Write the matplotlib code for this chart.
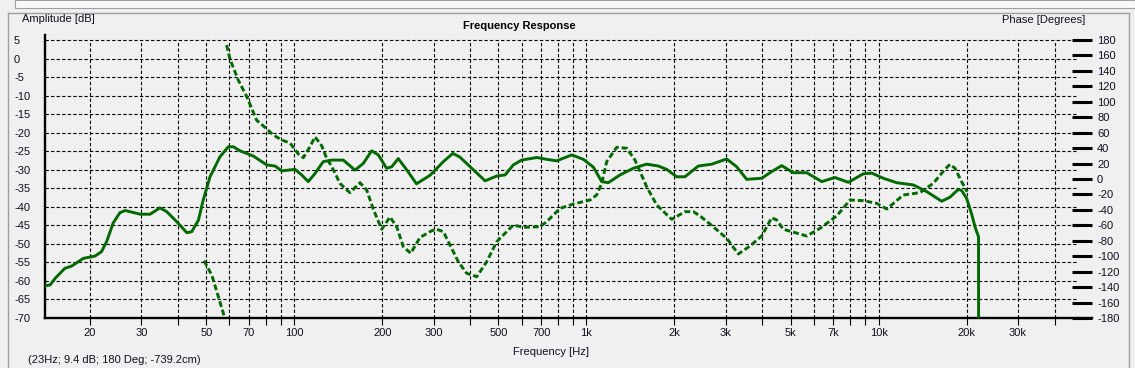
import numpy as np
import matplotlib
matplotlib.use('Agg')
import matplotlib.pyplot as plt
from matplotlib.ticker import FixedLocator, FixedFormatter, NullFormatter
from matplotlib.lines import Line2D

# ---------------- data ----------------
freq_mag = [14.0, 14.6, 15.2, 16.4, 17.3, 19.0, 20.8, 21.9, 22.8, 24.0,
            25.3, 26.4, 29.7, 32.1, 34.7, 36.6, 39.6, 42.9, 44.6, 47.0,
            48.8, 51.5, 55.7, 59.5, 61.9, 65.2, 68.8, 72.4, 80.5, 86.0,
            90.6, 100.6, 106, 111.7, 117.8, 125.7, 134.4, 147.2, 161.4, 172.3,
            184, 194, 207, 215.6, 227, 243, 262, 291.6, 324, 349,
            369, 405, 450, 493, 527, 562, 600, 676, 731, 791,
            891, 976, 1056, 1128, 1188, 1303, 1447, 1607, 1762, 1882,
            2036, 2174, 2414, 2684, 3020, 3268, 3536, 3980, 4305, 4658,
            5104, 5674, 6386, 7088, 7876, 8862, 9470, 10374, 11528, 13142,
            14602, 16432, 17546, 18734, 19232, 20000, 20820, 21370, 21970, 21990]
mag_db = [-61.3, -61.1, -59.3, -56.6, -56.0, -53.9, -53.3, -52.1, -49.4, -44.4,
          -41.6, -41.0, -42.0, -42.0, -40.3, -41.3, -44.0, -47.0, -46.7, -43.6,
          -38.2, -31.9, -26.5, -23.8, -23.8, -24.9, -25.6, -26.3, -28.7, -29.0,
          -30.3, -29.9, -31.4, -33.2, -31.0, -27.8, -27.4, -27.4, -30.1, -28.3,
          -24.9, -26.0, -29.6, -29.2, -27.0, -30.1, -33.8, -31.5, -27.8, -25.6,
          -26.6, -29.6, -33.0, -31.7, -31.4, -28.7, -27.4, -26.7, -27.2, -27.6,
          -26.0, -27.2, -29.3, -33.2, -33.5, -31.4, -29.6, -28.5, -29.0, -29.9,
          -31.9, -31.9, -29.0, -28.5, -27.1, -29.2, -32.6, -32.3, -30.5, -28.9,
          -30.8, -30.8, -33.2, -32.1, -33.4, -31.1, -30.9, -32.3, -33.5, -34.1,
          -35.9, -38.5, -37.4, -35.3, -35.6, -37.7, -42.0, -45.4, -48.1, -90.0]

freq_phase = [49.1, 52.2, 55.0, 57.5, 58.7, 60.3, 64.3, 68.8, 74.4, 79.4,
              84.8, 90.6, 96.7, 103.3, 107.4, 113.2, 117.8, 124.2, 129.1, 134.0,
              143.4, 150.0, 155.2, 167.9, 177.0, 186.4, 199.2, 212.6, 224.2, 236.2,
              250.4, 269.4, 295.4, 307.4, 323.8, 364.2, 389.2, 421.2, 455.8, 493,
              562, 608, 693, 731, 812, 902, 1029, 1084, 1128, 1173,
              1269, 1374, 1466, 1607, 1740, 1958, 2174, 2322, 2448, 2648,
              3020, 3310, 3628, 3980, 4305, 4478, 4718, 5674, 6300, 7184,
              7980, 8862, 9850, 10660, 12146, 13854, 15382, 16866, 17546, 18250,
              19232, 20106]
phase_deg = [-105.8, -124.3, -152.4, -177.0, 173.5, 155.0, 128.2, 106.6, 76.0, 66.9,
             57.0, 50.5, 46.6, 32.4, 27.6, 41.8, 54.5, 43.0, 26.8, 17.0,
             -5.6, -13.0, -17.7, -4.8, -14.3, -39.0, -65.1, -49.2, -61.8, -87.7,
             -96.2, -75.7, -67.0, -65.1, -68.2, -107.1, -122.1, -126.5, -107.1, -81.2,
             -59.6, -62.6, -61.8, -55.3, -38.0, -32.4, -27.2, -20.7, -5.6, 22.4,
             41.0, 39.8, 24.6, -10.0, -33.7, -52.2, -42.3, -42.3, -47.9, -58.3,
             -76.8, -97.1, -86.8, -73.8, -50.1, -53.1, -65.1, -73.8, -63.9, -47.9,
             -27.2, -28.1, -31.5, -38.9, -20.7, -17.7, -5.6, 12.5, 19.0, 13.9,
             -3.5, -16.5]

db_ticks = list(range(5, -75, -5))
phase_ticks = list(range(180, -200, -20))
freq_major = [20, 30, 50, 70, 100, 200, 300, 500, 700, 1000, 2000, 3000,
              5000, 7000, 10000, 20000, 30000]
freq_major_labels = ['20', '30', '50', '70', '100', '200', '300', '500', '700',
                     '1k', '2k', '3k', '5k', '7k', '10k', '20k', '30k']
freq_minor = [40, 60, 80, 90, 400, 600, 800, 900, 4000, 6000, 8000, 9000, 40000]

title = 'Frequency Response'
left_label = 'Amplitude [dB]'
right_label = 'Phase [Degrees]'
x_label = 'Frequency [Hz]'
status = '(23Hz; 9.4 dB; 180 Deg; -739.2cm)'

# ---------------- layout ----------------
W, H = 1135, 368
BG = '#f0f0f0'
GREEN = '#006a00'
FONT = 'Liberation Sans'
FS = 8

plt.rcParams['font.family'] = [FONT, 'DejaVu Sans']

fig = plt.figure(figsize=(W / 100, H / 100), dpi=100, facecolor=BG)

def fx(x):
    return x / W

def fy(y):
    return 1 - y / H

# pixel geometry of the plot
x_left, x_right, x_grid_end = 45, 1092, 1076
y_top_axes, y_top_grid, y_bottom = 35, 40, 318
px_per_dec = 292.2

def f_at(x):
    return 20 * 10 ** ((x - 90) / px_per_dec)

fmin, fmax, fgrid = f_at(x_left), f_at(x_right), f_at(x_grid_end)
px_per_db = (y_bottom - y_top_grid) / 75.0
ytop = 5 + (y_top_grid - y_top_axes) / px_per_db

ax = fig.add_axes([fx(x_left), fy(y_bottom), (x_right - x_left) / W,
                   (y_bottom - y_top_axes) / H])
ax.set_facecolor('none')
ax.set_xscale('log')
ax.set_xlim(fmin, fmax)
ax.set_ylim(-70, ytop)

# grid (dashed black)
gls = (0, (3, 2))
for v in db_ticks[:-1]:
    ax.plot([fmin, fgrid], [v, v], color='black', lw=0.8, ls=gls, zorder=1)
for f in freq_major + freq_minor:
    ax.plot([f, f], [-70, 5], color='black', lw=0.8, ls=gls, zorder=1)

# spines
for s in ['top', 'right']:
    ax.spines[s].set_visible(False)
for s in ['left', 'bottom']:
    ax.spines[s].set_linewidth(1.7)
    ax.spines[s].set_color('black')

# x ticks
ax.xaxis.set_major_locator(FixedLocator(freq_major))
ax.xaxis.set_major_formatter(FixedFormatter(freq_major_labels))
ax.xaxis.set_minor_locator(FixedLocator(freq_minor))
ax.xaxis.set_minor_formatter(NullFormatter())
ax.tick_params(axis='x', which='both', direction='out', length=5, width=0.8,
               color='black', pad=2, labelsize=FS, labelcolor='#101020')

# left y ticks
ax.set_yticks(db_ticks)
ax.set_yticklabels([str(v) for v in db_ticks])
ax.tick_params(axis='y', length=0, pad=22.3, labelsize=FS, labelcolor='#101020')
for lbl in ax.get_yticklabels():
    lbl.set_horizontalalignment('left')

# magnitude curve
ax.plot(freq_mag, mag_db, color=GREEN, lw=2.1, zorder=3,
        solid_joinstyle='round', solid_capstyle='butt')

# phase axis
ax2 = ax.twinx()
ax2.set_facecolor('none')
ax2.set_ylim(-180, 180 + (ytop - 5) * 4.8)
for s in ax2.spines.values():
    s.set_visible(False)
ax2.set_yticks(phase_ticks)
ax2.set_yticklabels([str(v) for v in phase_ticks])
ax2.tick_params(axis='y', direction='in', length=14.4, width=2.2, color='black',
                pad=3.6, labelsize=FS, labelcolor='#101020')

fp = np.array(freq_phase, dtype=float)
pp = np.array(phase_deg, dtype=float)
brk = np.where(np.abs(np.diff(pp)) > 180)[0] + 1
fp = np.insert(fp, brk, np.nan)
pp = np.insert(pp, brk, np.nan)
ax2.plot(fp, pp, color=GREEN, lw=2.1, ls=(0, (2.0, 1.0)), zorder=3,
         dash_capstyle='butt')

# texts
fig.text(fx(22), fy(19), left_label, ha='left', va='center', fontsize=FS, color='#101020')
fig.text(fx(519), fy(26), title, ha='center', va='center', fontsize=FS,
         fontweight='bold', color='black')
fig.text(fx(1085), fy(20), right_label, ha='right', va='center', fontsize=FS, color='#101020')
fig.text(fx(551), fy(352), x_label, ha='center', va='center', fontsize=FS, color='#101020')
fig.text(fx(28), fy(360), status, ha='left', va='center', fontsize=FS, color='#101020')

# window frame decorations
def line(x0, y0, x1, y1, c, lw=1.0):
    fig.add_artist(Line2D([fx(x0), fx(x1)], [fy(y0), fy(y1)], color=c, lw=lw,
                          transform=fig.transFigure))

fig.patches.append(matplotlib.patches.Rectangle((fx(15), fy(8)), 1 - fx(15), 8 / H,
                   transform=fig.transFigure, facecolor='#fafafa',
                   edgecolor='#a0a0a0', lw=0.8))
line(8, 13, 1129, 13, '#a0a0a0')
line(8, 13, 8, 368, '#a0a0a0')
line(1129, 13, 1129, 368, '#a0a0a0')

fig.savefig('out.png', dpi=100, facecolor=BG)
